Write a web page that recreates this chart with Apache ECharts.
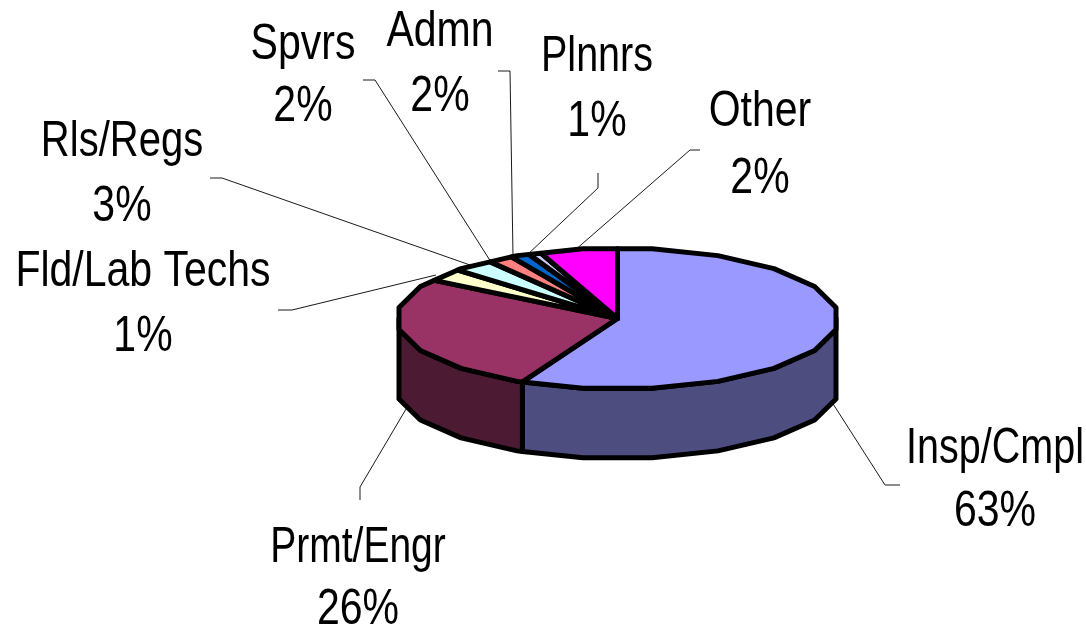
<!DOCTYPE html>
<html>
<head>
<meta charset="utf-8">
<style>
  html, body { margin: 0; padding: 0; background: #fff; }
  #chart { width: 1086px; height: 629px; }
</style>
<script src="https://cdn.jsdelivr.net/npm/echarts@6/dist/echarts.min.js"></script>
</head>
<body>
<div id="chart"></div>
<script>
// clockwise from 12 o'clock
const categories = ['Insp/Cmpl', 'Prmt/Engr', 'Fld/Lab Techs', 'Rls/Regs', 'Spvrs', 'Admn', 'Plnnrs', 'Other']
// percentages printed on the labels
const labelPercents = [63, 26, 1, 3, 2, 2, 1, 2]
// slice sizes as drawn (they differ from the printed labels)
const drawnShares = [57.1, 27.1, 2.9, 3.0, 1.9, 1.4, 0.9, 5.7]

const topColors = ['#9999ff', '#993366', '#ffffcc', '#ccffff', '#ff8080', '#0066cc', '#ccccff', '#ff00ff']
const sideColors = ['#4d4d80', '#4d1a33', '#80805f', '#608080', '#804040', '#003366', '#606080', '#800080']

// label centre x, name line y, percent line y, name squeeze
const labelSpots = [
  [995, 449, 512, 0.79], [358, 548, 610, 0.78], [143, 272, 337, 0.82], [122, 142, 207, 0.80],
  [303, 45, 107, 0.82], [440, 32, 97, 0.82], [597, 57, 122, 0.79], [760, 112, 179, 0.82]
]
// leader tips run a little under the pie so they touch its outline
const leaderPaths = [
  [[828, 396], [885, 485], [900, 485]],
  [[409, 404], [360, 487], [360, 500]],
  [[436, 275], [292, 310], [278, 310]],
  [[470, 265], [222, 178], [210, 178]],
  [[491, 262], [375, 80], [363, 80]],
  [[513, 256], [510, 71], [498, 71]],
  [[527, 255], [598, 188], [598, 173]],
  [[574, 251], [690, 150], [700, 150]]
]

const cx = 617.5
const cy = 318.5
const rx = 218.5
const ry = 69.7
const depth = 69.5
const facet = 18 // outline is faceted in the original

// point on the faceted outline, its flat sides touch the ellipse at their middle
function pointAt(deg, y0) {
  const a = deg * Math.PI / 180
  const mid = Math.round(deg / facet) * facet
  const k = 1 / Math.cos((deg - mid) * Math.PI / 180)
  return [cx + k * rx * Math.sin(a), y0 - k * ry * Math.cos(a)]
}

// outline vertices between two angles, on a fixed facet grid
function arcPoints(from, to, y0) {
  const pts = [pointAt(from, y0)]
  let d = Math.ceil((from - facet / 2) / facet) * facet + facet / 2
  for (; d < to; d += facet) {
    if (d > from) pts.push(pointAt(d, y0))
  }
  pts.push(pointAt(to, y0))
  return pts
}

const total = drawnShares.reduce((a, b) => a + b, 0)
let running = 0
const sliceRows = drawnShares.map((v, i) => {
  const row = [running / total * 360, (running + v) / total * 360, i]
  running += v
  return row
})

const outline = { stroke: '#000', lineWidth: 5, lineJoin: 'round' }

function renderSide(params, api) {
  const from = Math.max(api.value(0), 90)
  const to = Math.min(api.value(1), 270)
  if (to <= from) return { type: 'group', children: [] }
  const upper = arcPoints(from, to, cy)
  const lower = arcPoints(from, to, cy + depth).reverse()
  return {
    type: 'polygon',
    shape: { points: upper.concat(lower) },
    style: Object.assign({ fill: sideColors[api.value(2)] }, outline)
  }
}

function renderTop(params, api) {
  const pts = arcPoints(api.value(0), api.value(1), cy)
  pts.push([cx, cy])
  return {
    type: 'polygon',
    shape: { points: pts },
    style: Object.assign({ fill: topColors[api.value(2)] }, outline)
  }
}

function labelText(text, x, y, squeeze) {
  return {
    type: 'text',
    x: x,
    y: y,
    scaleX: squeeze,
    style: {
      text: text,
      fill: '#000',
      font: '50px "Liberation Sans", Arial, sans-serif',
      align: 'center',
      verticalAlign: 'middle'
    }
  }
}

function renderLabel(params, api) {
  const i = api.value(2)
  const spot = labelSpots[i]
  return {
    type: 'group',
    children: [
      {
        type: 'polyline',
        shape: { points: leaderPaths[i] },
        style: { stroke: '#1a1a1a', lineWidth: 1, fill: null }
      },
      labelText(categories[i], spot[0], spot[1], spot[3]),
      labelText(labelPercents[i] + '%', spot[0], spot[2], 0.82)
    ]
  }
}

const chart = echarts.init(document.getElementById('chart'), null, { renderer: 'canvas' })
chart.setOption({
  backgroundColor: '#fff',
  animation: false,
  tooltip: { show: false },
  series: [
    { type: 'custom', name: 'labels', coordinateSystem: 'none', silent: true, z: 1, data: sliceRows, renderItem: renderLabel },
    { type: 'custom', name: 'sides', coordinateSystem: 'none', silent: true, z: 2, data: sliceRows, renderItem: renderSide },
    { type: 'custom', name: 'tops', coordinateSystem: 'none', silent: true, z: 3, data: sliceRows, renderItem: renderTop }
  ]
})
</script>
</body>
</html>
